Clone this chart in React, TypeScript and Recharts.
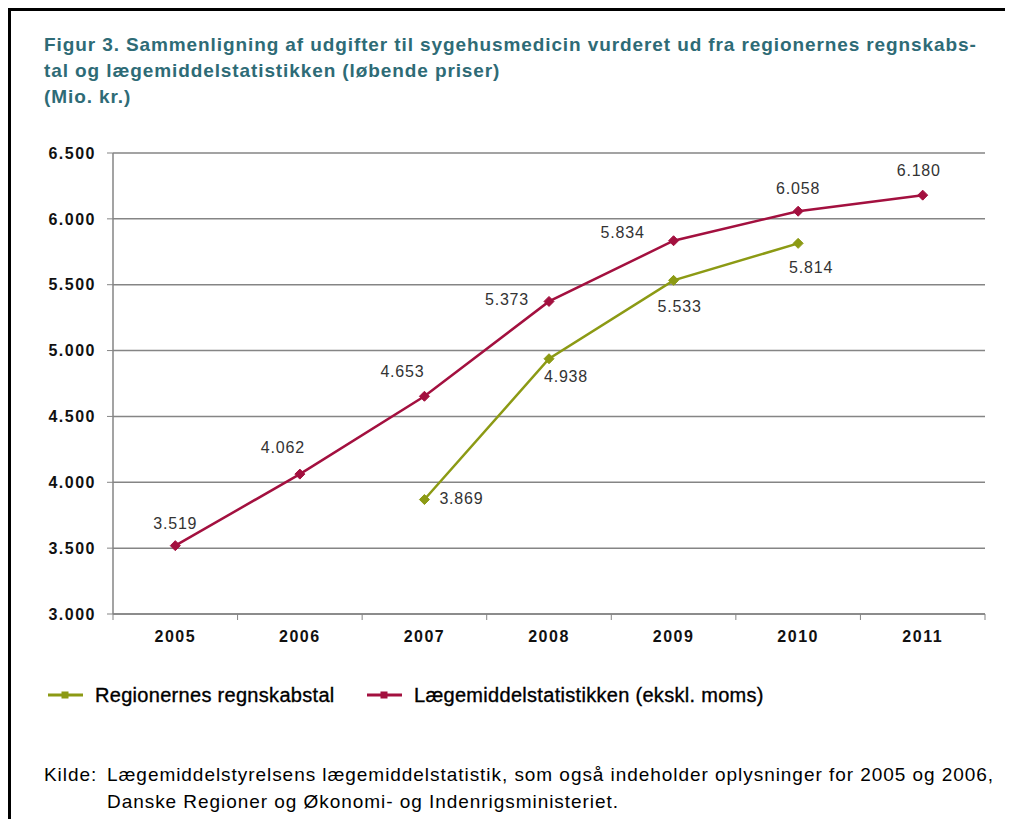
import React from "react";
import { LineChart, Line, XAxis, YAxis, CartesianGrid } from "recharts";

const years = ["2005", "2006", "2007", "2008", "2009", "2010", "2011"];
const regionerValues = [null, null, 3869, 4938, 5533, 5814, null];
const laegemiddelValues = [3519, 4062, 4653, 5373, 5834, 6058, 6180];
const yTicks = [3000, 3500, 4000, 4500, 5000, 5500, 6000, 6500];
const seriesNames = ["Regionernes regnskabstal", "Lægemiddelstatistikken (ekskl. moms)"];

const titleLines = [
  "Figur 3. Sammenligning af udgifter til sygehusmedicin vurderet ud fra regionernes regnskabs-",
  "tal og lægemiddelstatistikken (løbende priser)",
  "(Mio. kr.)",
];
const sourceLabel = "Kilde:";
const sourceLines = [
  "Lægemiddelstyrelsens lægemiddelstatistik, som også indeholder oplysninger for 2005 og 2006,",
  "Danske Regioner og Økonomi- og Indenrigsministeriet.",
];

const OLIVE = "#8c9a14";
const RED = "#a3103f";
const GRID = "#858585";
const FONT = "Arial, 'Liberation Sans', sans-serif";

const CHART_W = 990;
const CHART_H = 650;
const MARGIN = { top: 142, right: 16, bottom: 17, left: 42 };
const YAXIS_W = 60;
const X_TICK_SIZE = 6;
const X_TICK_MARGIN = 11;
const BAND = (CHART_W - MARGIN.left - YAXIS_W - MARGIN.right) / years.length;

// where each value label sits relative to its point (dx, dy of text centre)
const redLabelOffsets = [[0, -22], [-17, -27], [-22, -25], [-42, -2], [-51, -8], [0, -23], [-4, -25]];
const oliveLabelOffsets = [[0, 0], [0, 0], [37, -1], [17, 18], [6, 26], [13, 24], [0, 0]];

const data = years.map((year, i) => ({
  year,
  regioner: regionerValues[i],
  laegemiddel: laegemiddelValues[i],
}));

const fmt = (v: number) => String(v).replace(/\B(?=(\d{3})+(?!\d))/g, ".");

const makeDiamond = (color: string) => (p: any) => {
  if (p.cx == null || p.cy == null || p.value == null) return <g key={p.key ?? p.index} />;
  const r = 5;
  return (
    <path
      key={p.key ?? p.index}
      d={`M${p.cx},${p.cy - r} L${p.cx + r},${p.cy} L${p.cx},${p.cy + r} L${p.cx - r},${p.cy} Z`}
      fill={color}
      stroke={color}
      strokeWidth={1}
    />
  );
};

const makeLabel = (offsets: number[][]) => (p: any) => {
  if (p.value == null) return <g key={p.index} />;
  const [dx, dy] = offsets[p.index] ?? [0, -20];
  return (
    <text
      key={p.index}
      x={p.x + dx}
      y={p.y + dy}
      textAnchor="middle"
      dominantBaseline="central"
      fontFamily={FONT}
      fontSize={16}
      letterSpacing={0.8}
      fill="#333"
    >
      {fmt(p.value)}
    </text>
  );
};

function YearTick(props: any) {
  const { x, y, payload, index } = props;
  const axisY = y - X_TICK_SIZE - X_TICK_MARGIN;
  return (
    <g>
      <line x1={x - BAND / 2} x2={x - BAND / 2} y1={axisY} y2={axisY + X_TICK_SIZE} stroke={GRID} />
      {index === years.length - 1 && (
        <line x1={x + BAND / 2} x2={x + BAND / 2} y1={axisY} y2={axisY + X_TICK_SIZE} stroke={GRID} />
      )}
      <text x={x} y={y} dy="0.71em" textAnchor="middle" fontFamily={FONT} fontSize={16} fontWeight={700} letterSpacing={1.5} fill="#111">
        {payload.value}
      </text>
    </g>
  );
}

function LegendItem({ color, name, left }: { color: string; name: string; left: number }) {
  return (
    <div style={{ position: "absolute", left, top: 670, height: 28, display: "flex", alignItems: "center" }}>
      <svg width={36} height={12} style={{ display: "block" }}>
        <line x1={0} x2={35} y1={6} y2={6} stroke={color} strokeWidth={3} />
        <rect x={13.5} y={2.5} width={7} height={7} fill={color} />
      </svg>
      <span style={{ marginLeft: 11, fontFamily: FONT, fontSize: 20, letterSpacing: 0.3, color: "#000", WebkitTextStroke: "0.35px #000", whiteSpace: "nowrap" }}>
        {name}
      </span>
    </div>
  );
}

export default function App() {
  return (
    <div
      style={{
        position: "relative",
        width: 997,
        height: 811,
        borderTop: "3px solid #000",
        borderLeft: "3px solid #000",
        boxSizing: "border-box",
        overflow: "hidden",
        background: "#fff",
      }}
    >
      <div
        style={{
          position: "absolute",
          left: 33,
          top: 21,
          fontFamily: FONT,
          fontSize: 19,
          letterSpacing: 0.9,
          fontWeight: 700,
          lineHeight: "26px",
          color: "#2e6b76",
          whiteSpace: "nowrap",
        }}
      >
        {titleLines.map((t) => (
          <div key={t}>{t}</div>
        ))}
      </div>

      <div style={{ position: "absolute", left: 0, top: 0 }}>
        <LineChart width={CHART_W} height={CHART_H} data={data} margin={MARGIN}>
          <CartesianGrid vertical={false} stroke={GRID} strokeWidth={1.5} />
          <XAxis
            dataKey="year"
            scale="band"
            height={30}
            interval={0}
            tickSize={X_TICK_SIZE}
            tickMargin={X_TICK_MARGIN}
            tickLine={false}
            axisLine={{ stroke: GRID, strokeWidth: 1.5 }}
            tick={<YearTick />}
          />
          <YAxis
            width={YAXIS_W}
            domain={[3000, 6500]}
            ticks={yTicks}
            interval={0}
            tickFormatter={fmt}
            tickSize={6}
            tickMargin={11}
            tickLine={{ stroke: GRID }}
            axisLine={{ stroke: GRID, strokeWidth: 1.5 }}
            tick={{ fontFamily: FONT, fontSize: 16, fontWeight: 700, fill: "#111", letterSpacing: 1.5 }}
          />
          <YAxis
            yAxisId="frame"
            orientation="right"
            width={0}
            domain={[3000, 6500]}
            tick={false}
            tickLine={false}
            axisLine={{ stroke: GRID, strokeWidth: 1.5 }}
          />
          <Line
            dataKey="regioner"
            name={seriesNames[0]}
            stroke={OLIVE}
            strokeWidth={2.5}
            dot={makeDiamond(OLIVE)}
            label={makeLabel(oliveLabelOffsets)}
            isAnimationActive={false}
          />
          <Line
            dataKey="laegemiddel"
            name={seriesNames[1]}
            stroke={RED}
            strokeWidth={2.5}
            dot={makeDiamond(RED)}
            label={makeLabel(redLabelOffsets)}
            isAnimationActive={false}
          />
        </LineChart>
      </div>

      <LegendItem color={OLIVE} name={seriesNames[0]} left={37} />
      <LegendItem color={RED} name={seriesNames[1]} left={356} />

      <div
        style={{
          position: "absolute",
          left: 33,
          top: 750,
          fontFamily: FONT,
          fontSize: 19,
          letterSpacing: 0.95,
          lineHeight: "27px",
          color: "#000",
          display: "flex",
          whiteSpace: "nowrap",
        }}
      >
        <div style={{ width: 63 }}>{sourceLabel}</div>
        <div>
          {sourceLines.map((t) => (
            <div key={t}>{t}</div>
          ))}
        </div>
      </div>
    </div>
  );
}
